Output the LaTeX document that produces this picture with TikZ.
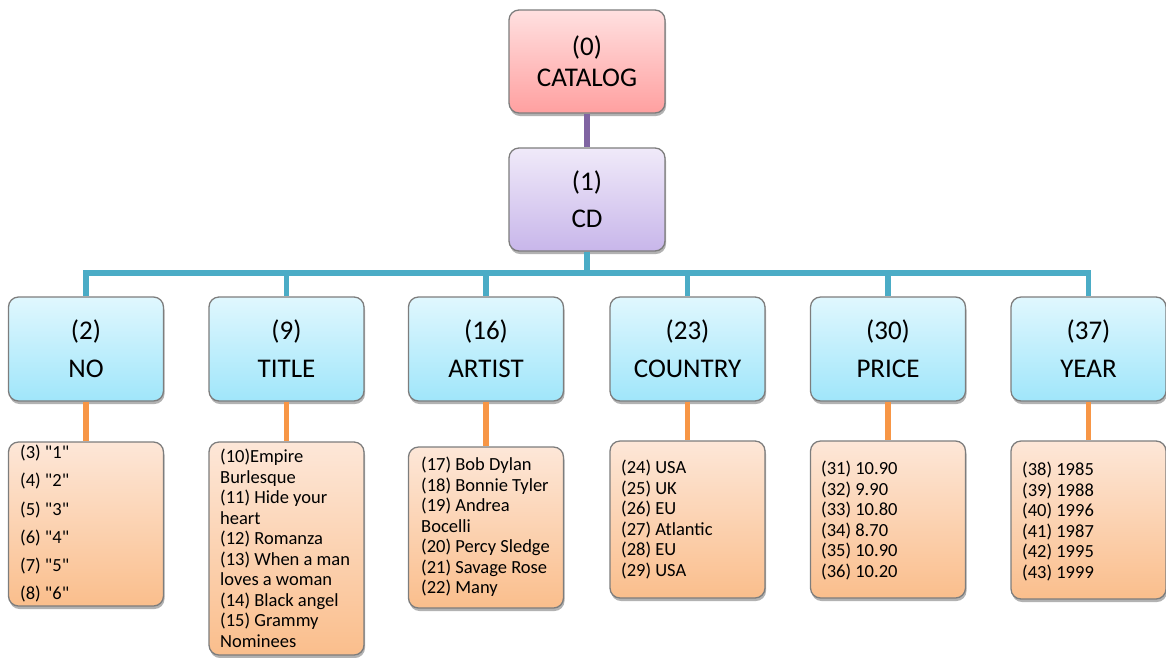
\documentclass[tikz,border=0pt]{standalone}
\usepackage{fontspec}
\setmainfont{Carlito}[Ligatures=TeXOff]
\usetikzlibrary{shadows}
\definecolor{catTop}{RGB}{255,224,224}
\definecolor{catBot}{RGB}{255,160,160}
\definecolor{cdTop}{RGB}{240,234,249}
\definecolor{cdBot}{RGB}{200,182,234}
\definecolor{fTop}{RGB}{224,247,254}
\definecolor{fBot}{RGB}{160,230,250}
\definecolor{lTop}{RGB}{253,231,216}
\definecolor{lBot}{RGB}{250,190,140}
\definecolor{boxBorder}{RGB}{125,125,125}
\definecolor{linePurple}{RGB}{128,100,162}
\definecolor{lineTeal}{RGB}{75,172,198}
\definecolor{lineOrange}{RGB}{247,150,70}
\tikzset{
  box/.style={draw=boxBorder, line width=1.3pt, rounded corners=10pt, inner sep=0pt,
    align=center, font=\fontsize{27}{31}\selectfont,
    drop shadow={opacity=0.3, shadow xshift=1pt, shadow yshift=-3pt, fill=black}},
  catbox/.style={box, top color=catTop, bottom color=catBot, minimum width=156pt, minimum height=103pt},
  cdbox/.style={box, top color=cdTop, bottom color=cdBot, minimum width=156pt, minimum height=103pt},
  fieldbox/.style={box, top color=fTop, bottom color=fBot, minimum width=155pt, minimum height=104pt},
  leafbox/.style={box, top color=lTop, bottom color=lBot, minimum width=155pt},
  leaftext/.style={anchor=north west, inner sep=0pt, align=left, font=\fontsize{18.5}{20.5}\selectfont},
  conn/.style={line width=5.5pt},
}
\begin{document}
\begin{tikzpicture}[x=1pt,y=-1pt]
\useasboundingbox (0,0) rectangle (1166,657);
% top
\node[catbox] (cat) at (587,61.5) {(0)\\CATALOG};
\node[cdbox] (cd) at (587,199.5) {(1)\\[6pt]CD};
% fields
\node[fieldbox] (no) at (86,349) {(2)\\[7pt]NO};
\node[fieldbox] (title) at (286.5,349) {(9)\\[7pt]TITLE};
\node[fieldbox] (artist) at (486,349) {(16)\\[7pt]ARTIST};
\node[fieldbox] (country) at (687.5,349) {(23)\\[7pt]COUNTRY};
\node[fieldbox] (price) at (888,349) {(30)\\[7pt]PRICE};
\node[fieldbox] (year) at (1088.5,349) {(37)\\[7pt]YEAR};
% leaves
\node[leafbox, minimum height=164pt] (noL) at (86,524) {};
\node[leafbox, minimum height=213pt] (titleL) at (286.5,548.5) {};
\node[leafbox, minimum height=161pt] (artistL) at (486,527.5) {};
\node[leafbox, minimum height=157pt] (countryL) at (687.5,519.5) {};
\node[leafbox, minimum height=157pt] (priceL) at (888,519.5) {};
\node[leafbox, minimum height=158pt] (yearL) at (1088.5,520) {};
% leaf texts
\node[leaftext, font=\fontsize{18.5}{28.2}\selectfont] (noT) at (20,445) {(3) "1"\\(4) "2"\\(5) "3"\\(6) "4"\\(7) "5"\\(8) "6"};
\node[leaftext] (titleT) at (220,449) {(10)Empire\\Burlesque\\(11) Hide your\\heart\\(12) Romanza\\(13) When a man\\loves a woman\\(14) Black angel\\(15) Grammy\\Nominees};
\node[leaftext] (artistT) at (421,457) {(17) Bob Dylan\\(18) Bonnie Tyler\\(19) Andrea\\Bocelli\\(20) Percy Sledge\\(21) Savage Rose\\(22) Many};
\node[leaftext] (countryT) at (621,460) {(24) USA\\(25) UK\\(26) EU\\(27) Atlantic\\(28) EU\\(29) USA};
\node[leaftext] (priceT) at (821,461) {(31) 10.90\\(32) 9.90\\(33) 10.80\\(34) 8.70\\(35) 10.90\\(36) 10.20};
\node[leaftext] (yearT) at (1022,462) {(38) 1985\\(39) 1988\\(40) 1996\\(41) 1987\\(42) 1995\\(43) 1999};
% connectors
\coordinate (bus) at (587,273);
\draw[conn, linePurple] (cat.south) -- (cd.north);
\draw[conn, lineTeal] (cd.south) -- (cd.south |- bus);
\draw[conn, lineTeal, line join=miter] (no.north) -- (no.north |- bus) -- (year.north |- bus) -- (year.north);
\foreach \n in {title,artist,country,price}{
  \draw[conn, lineTeal] (\n.north |- bus) -- (\n.north);
}
\foreach \n in {no,title,artist,country,price,year}{
  \draw[conn, lineOrange] (\n.south) -- (\n L.north);
}
\end{tikzpicture}
\end{document}
